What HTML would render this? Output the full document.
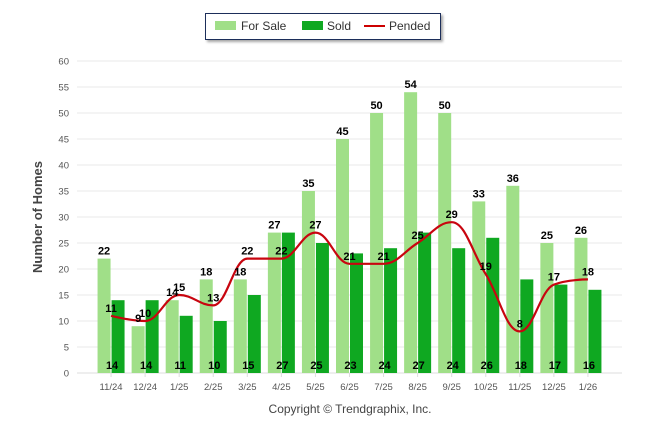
<!DOCTYPE html>
<html><head><meta charset="utf-8"><style>
body{margin:0;background:#fff;font-family:"Liberation Sans",Arial,sans-serif}
svg text{font-family:"Liberation Sans",Arial,sans-serif}
</style></head><body>
<svg id="c" width="646" height="434" xmlns="http://www.w3.org/2000/svg">
<defs><filter id="sh" x="-10%" y="-10%" width="130%" height="150%"><feDropShadow dx="2" dy="2" stdDeviation="1.2" flood-color="#000" flood-opacity="0.35"/></filter></defs>
<g>
<rect x="205.5" y="13.5" width="235" height="26" fill="#fff" stroke="#1c2e5a" stroke-width="1" filter="url(#sh)"/>
<g><rect x="215" y="21" width="21" height="9" fill="#a0df88"/><text x="241" y="30" font-size="12" fill="#333">For Sale</text></g>
<g><rect x="302" y="21" width="21" height="9" fill="#0fa821"/><text x="327" y="30" font-size="12" fill="#333">Sold</text></g>
<g><line x1="364" y1="26" x2="385" y2="26" stroke="#c00" stroke-width="2"/><text x="389" y="30" font-size="12" fill="#333">Pended</text></g>
</g>
<text transform="translate(42,217) rotate(-90)" text-anchor="middle" font-size="13" font-weight="bold" fill="#444">Number of Homes</text>
<text x="350" y="413" text-anchor="middle" font-size="12" fill="#444">Copyright © Trendgraphix, Inc.</text>
<g id="grid"></g><g id="bars"></g><g id="line"></g><g id="labels"></g>
</svg>
<script>
const categories=["11/24","12/24","1/25","2/25","3/25","4/25","5/25","6/25","7/25","8/25","9/25","10/25","11/25","12/25","1/26"];
const forSale=[22,9,14,18,18,27,35,45,50,54,50,33,36,25,26];
const sold=[14,14,11,10,15,27,25,23,24,27,24,26,18,17,16];
const pended=[11,10,15,13,22,22,27,21,21,25,29,19,8,17,18];
const yTicks=[0,5,10,15,20,25,30,35,40,45,50,55,60];
const NS="http://www.w3.org/2000/svg";
const L=77,R=622,T=61,B=373,YMAX=60;
const slot=(R-L)/(categories.length+1);
const xc=i=>L+slot*(i+1);
const y=v=>B-(B-T)*v/YMAX;
function mk(tag,a,parent,txt){const e=document.createElementNS(NS,tag);for(const k in a)e.setAttribute(k,a[k]);if(txt!==undefined)e.textContent=txt;document.getElementById(parent).appendChild(e);return e;}
yTicks.forEach(t=>{
 const g=mk('line',{x1:L,x2:R,y1:y(t),y2:y(t),stroke:t===0?'#ddd':'#e8e8e8','stroke-width':1},'grid');
 
 
 const tx=mk('text',{x:69,y:y(t)+3.5,'text-anchor':'end','font-size':9.5,fill:'#555'},'grid',t);
 
 
});
categories.forEach((c,i)=>{
 const tx=mk('text',{x:xc(i),y:390,'text-anchor':'middle','font-size':9.5,fill:'#555'},'grid',c);
 
 
 const tk=mk('line',{x1:xc(i),x2:xc(i),y1:B,y2:B+4,stroke:'#ddd'},'grid');
 
 
 const b1=mk('rect',{x:xc(i)-13.5,y:y(forSale[i]),width:13,height:B-y(forSale[i]),fill:'#a0df88'},'bars');
 
 
 const b2=mk('rect',{x:xc(i)+0.5,y:y(sold[i]),width:13,height:B-y(sold[i]),fill:'#0fa821'},'bars');
 
 
 const l1=mk('text',{x:xc(i)-7,y:y(forSale[i])-4,'text-anchor':'middle','font-size':11,'font-weight':'bold',fill:'#000'},'labels',forSale[i]);
 
 
 const l2=mk('text',{x:xc(i)+1,y:B-4,'text-anchor':'middle','font-size':11,'font-weight':'bold',fill:'#000'},'labels',sold[i]);
 
 
 const l3=mk('text',{x:xc(i),y:y(pended[i])-4,'text-anchor':'middle','font-size':11,'font-weight':'bold',fill:'#000'},'labels',pended[i]);
 
 
});
// Highcharts-style spline
const pts=pended.map((v,i)=>[xc(i),y(v)]);
let d='M'+pts[0][0]+' '+pts[0][1];
const sm=1.5,den=sm+1;
function ctrl(i){
 const p=pts[i],a=pts[i-1],n=pts[i+1];
 if(!a||!n)return null;
 let lx=(sm*p[0]+a[0])/den,ly=(sm*p[1]+a[1])/den,rx=(sm*p[0]+n[0])/den,ry=(sm*p[1]+n[1])/den;
 let cor=0;if(rx!==lx)cor=((ry-ly)*(rx-p[0]))/(rx-lx)+p[1]-ry;
 ly+=cor;ry+=cor;
 if(ly>a[1]&&ly>p[1]){ly=Math.max(a[1],p[1]);ry=2*p[1]-ly;}else if(ly<a[1]&&ly<p[1]){ly=Math.min(a[1],p[1]);ry=2*p[1]-ly;}
 if(ry>n[1]&&ry>p[1]){ry=Math.max(n[1],p[1]);ly=2*p[1]-ry;}else if(ry<n[1]&&ry<p[1]){ry=Math.min(n[1],p[1]);ly=2*p[1]-ry;}
 return {l:[lx,ly],r:[rx,ry]};
}
const cs=pts.map((_,i)=>ctrl(i));
for(let i=1;i<pts.length;i++){
 const c1=cs[i-1]?cs[i-1].r:pts[i-1],c2=cs[i]?cs[i].l:pts[i];
 d+=` C${c1[0]} ${c1[1]} ${c2[0]} ${c2[1]} ${pts[i][0]} ${pts[i][1]}`;
}
const pl=mk('path',{d:d,fill:'none',stroke:'#c8050f','stroke-width':2.2},'line');


</script>
</body></html>
